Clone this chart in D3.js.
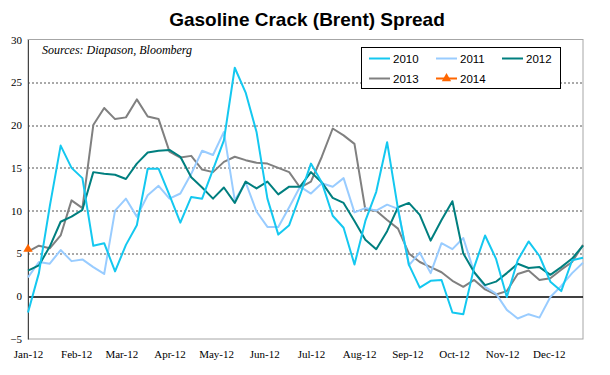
<!DOCTYPE html>
<html lang="en">
<head>
<meta charset="UTF-8">
<title>Gasoline Crack (Brent) Spread</title>
<script src="https://d3js.org/d3.v7.min.js"></script>
<style>
    body { margin: 0; background: #fff; }
    svg { overflow: visible; }
    .tick text { font-family: "Liberation Serif", "Times New Roman", serif; font-size: 11px; fill: #000; }
    .legend text { font-family: "Liberation Sans", Arial, sans-serif; font-size: 11.5px; fill: #000; }
</style>
</head>
<body>
<div id="chart"></div>
<script>
    // weekly spread values, USD/bbl, one entry per week starting Jan 1
    const series2010 = [-1.9, 2.7, 10.5, 17.6, 15.0, 13.8, 5.9, 6.2, 2.9, 6.0, 8.3, 14.9, 14.9, 11.8, 8.6, 11.6, 11.4, 14.8,
        18.2, 26.7, 23.8, 19.2, 11.4, 7.2, 8.3, 11.8, 15.5, 13.3, 9.4, 8.0, 3.7, 8.8, 12.2, 18.0, 10.2, 3.7, 1.0, 1.8,
        1.9, -1.9, -2.1, 3.4, 7.1, 4.4, -0.1, 4.2, 6.4, 4.7, 1.7, 0.6, 4.2, 4.5];
    const series2011 = [2.2, 4.0, 3.8, 5.4, 4.1, 4.3, 3.4, 2.6, 10.0, 11.4, 9.3, 11.8, 12.9, 11.4, 12.0, 14.3, 17.0, 16.5,
        19.2, 11.2, 13.3, 9.9, 8.1, 8.1, 10.4, 12.8, 12.0, 13.2, 12.8, 13.8, 9.8, 10.3, 10.0, 10.7, 10.2, 3.6, 5.1, 2.7,
        6.2, 5.5, 6.8, 2.8, 1.1, 0.3, -1.6, -2.6, -2.1, -2.5, -0.1, 1.2, 2.7, 3.9];
    const series2012 = [3.0, 3.6, 5.8, 8.7, 9.3, 10.1, 14.5, 14.3, 14.2, 13.7, 15.5, 16.8, 17.0, 17.1, 16.3, 13.9, 12.7, 11.4,
        12.7, 10.9, 13.4, 12.6, 13.4, 11.9, 12.8, 12.8, 14.5, 13.3, 11.5, 10.9, 8.8, 6.6, 5.5, 7.6, 10.4, 10.9, 9.5, 6.5,
        8.9, 11.1, 5.0, 2.8, 1.3, 1.7, 2.7, 3.8, 3.3, 3.4, 2.5, 3.4, 4.4, 5.9];
    const series2013 = [5.2, 5.9, 5.6, 7.1, 11.2, 10.3, 20.0, 22.0, 20.7, 20.9, 23.0, 21.0, 20.7, 16.9, 16.2, 16.4, 14.8, 14.5,
        15.7, 16.3, 15.9, 15.6, 15.5, 15.0, 14.5, 12.7, 13.4, 16.3, 19.6, 18.8, 17.8, 10.1, 10.0, 8.9, 7.9, 5.0, 4.0, 3.4,
        2.8, 1.8, 1.1, 1.9, 0.8, 0.2, 0.6, 2.6, 3.0, 1.9, 2.1, 3.1, 4.0, 6.0];
    const series2014 = [5.5];

    const seriesNames = ["2010", "2011", "2012", "2013", "2014"];
    const seriesColors = ["#14c8f0", "#99ccff", "#007f7f", "#808080", "#ff6600"];
    const yTicks = [-5, 0, 5, 10, 15, 20, 25, 30];

    const width = 610;
    const height = 375;
    const margin = { top: 39.5, right: 27, bottom: 36, left: 28 };
    const innerWidth = width - margin.left - margin.right;
    const innerHeight = height - margin.top - margin.bottom;

    const startDate = new Date(2012, 0, 1);
    const endDate = new Date(2012, 11, 23);
    const weekDate = i => d3.timeDay.offset(startDate, 7 * i);

    const allSeries = [series2010, series2011, series2012, series2013, series2014];

    const svg = d3.select("#chart")
        .append("svg")
        .attr("width", width)
        .attr("height", height);

    svg.append("text")
        .attr("x", 307)
        .attr("y", 26)
        .attr("text-anchor", "middle")
        .style("font-family", "Liberation Sans, Arial, sans-serif")
        .style("font-weight", "bold")
        .style("font-size", "19px")
        .text("Gasoline Crack (Brent) Spread");

    const g = svg.append("g")
        .attr("transform", `translate(${margin.left}, ${margin.top})`);

    const xScale = d3.scaleTime()
        .domain([startDate, endDate])
        .range([0, innerWidth]);

    const yScale = d3.scaleLinear()
        .domain([-5, 30])
        .range([innerHeight, 0]);

    // plot area border
    g.append("rect")
        .attr("width", innerWidth)
        .attr("height", innerHeight)
        .attr("fill", "none")
        .attr("stroke", "#a6a6a6")
        .attr("stroke-width", 1);

    // dashed gridlines
    g.selectAll(".grid")
        .data(yTicks.filter(d => d > 0 && d < 30))
        .join("line")
        .attr("class", "grid")
        .attr("x1", 0)
        .attr("x2", innerWidth)
        .attr("y1", d => Math.round(yScale(d)) + 0.5)
        .attr("y2", d => Math.round(yScale(d)) + 0.5)
        .attr("stroke", "#555")
        .attr("stroke-dasharray", "2,2");

    // zero line
    g.append("line")
        .attr("x1", 0)
        .attr("x2", innerWidth)
        .attr("y1", Math.round(yScale(0)) + 0.5)
        .attr("y2", Math.round(yScale(0)) + 0.5)
        .attr("stroke", "#000")
        .attr("stroke-width", 1.5);

    const yAxis = g.append("g")
        .call(d3.axisLeft(yScale).tickValues(yTicks).tickSize(0).tickPadding(6));
    yAxis.select(".domain").attr("stroke", "#444");

    const monthTicks = d3.timeMonth.range(startDate, new Date(2012, 11, 2));
    const xAxis = g.append("g")
        .attr("transform", `translate(0, ${innerHeight})`)
        .call(d3.axisBottom(xScale).tickValues(monthTicks).tickFormat(d3.timeFormat("%b-%y")).tickSize(0).tickPadding(11));
    xAxis.select(".domain").remove();

    const line = d3.line()
        .x((d, i) => xScale(weekDate(i)))
        .y(d => yScale(d));

    // draw 2013 first so 2010/2011/2012 sit above like the source
    const drawOrder = [3, 1, 2, 0];
    drawOrder.forEach(k => {
        g.append("path")
            .datum(allSeries[k])
            .attr("fill", "none")
            .attr("stroke", seriesColors[k])
            .attr("stroke-width", 2)
            .attr("stroke-linejoin", "round")
            .attr("d", line);
    });

    const triangle = d3.symbol().type(d3.symbolTriangle).size(38);
    g.selectAll(".pt2014")
        .data(series2014)
        .join("path")
        .attr("class", "pt2014")
        .attr("transform", (d, i) => `translate(${xScale(weekDate(i))}, ${yScale(d)})`)
        .attr("d", triangle)
        .attr("fill", seriesColors[4]);

    svg.append("text")
        .attr("x", 42)
        .attr("y", 54)
        .style("font-family", "Liberation Serif, Times New Roman, serif")
        .style("font-style", "italic")
        .style("font-size", "12px")
        .text("Sources: Diapason, Bloomberg");

    // legend
    const legend = svg.append("g").attr("class", "legend");
    legend.append("rect")
        .attr("x", 361.5)
        .attr("y", 47.5)
        .attr("width", 199)
        .attr("height", 41)
        .attr("fill", "#fff")
        .attr("stroke", "#000");

    const legendPos = [[369, 58.5], [436, 58.5], [502, 58.5], [369, 78.5], [436, 78.5]];
    seriesNames.forEach((name, k) => {
        const [lx, ly] = legendPos[k];
        legend.append("line")
            .attr("x1", lx)
            .attr("x2", lx + 21)
            .attr("y1", ly)
            .attr("y2", ly)
            .attr("stroke", seriesColors[k])
            .attr("stroke-width", 2);
        if (k === 4) {
            legend.append("path")
                .attr("transform", `translate(${lx + 10.5}, ${ly})`)
                .attr("d", triangle)
                .attr("fill", seriesColors[k]);
        }
        legend.append("text")
            .attr("x", lx + 24)
            .attr("y", ly + 4.5)
            .text(name);
    });
</script>
</body>
</html>
